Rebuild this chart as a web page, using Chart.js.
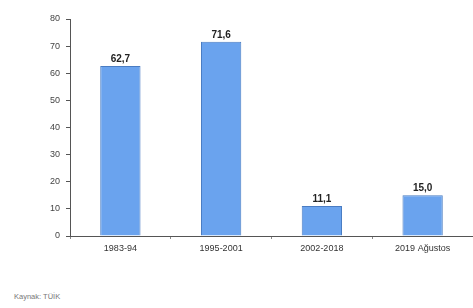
<!DOCTYPE html>
<html>
<head>
<meta charset="utf-8">
<script src="https://cdn.jsdelivr.net/npm/chart.js@4"></script>
<style>
  html, body { margin: 0; padding: 0; background: #fff; }
  #wrap { position: relative; width: 473px; height: 262px; }
  #source { position: absolute; left: 14px; top: 292px; font: 7.5px "Liberation Sans", Arial, sans-serif; color: #777; }
</style>
</head>
<body>
<div id="wrap"><canvas id="chart"></canvas></div>
<div id="source">Kaynak: TÜİK</div>
<script>
const categories = ['1983-94', '1995-2001', '2002-2018', '2019 Ağustos'];
const values = [62.7, 71.6, 11.1, 15.0];
const yTicks = [0, 10, 20, 30, 40, 50, 60, 70, 80];

// value labels above bars, Turkish decimal comma
const barLabels = {
  id: 'barLabels',
  afterDatasetsDraw(chart) {
    const ctx = chart.ctx;
    const meta = chart.getDatasetMeta(0);
    ctx.save();
    ctx.font = 'bold 10px "Liberation Sans", Arial, sans-serif';
    ctx.fillStyle = '#222';
    ctx.textAlign = 'center';
    ctx.textBaseline = 'bottom';
    meta.data.forEach((bar, i) => {
      ctx.fillText(values[i].toFixed(1).replace('.', ','), bar.x, bar.y - 2);
    });
    ctx.restore();
  }
};

new Chart(document.getElementById('chart'), {
  type: 'bar',
  data: {
    labels: categories,
    datasets: [{
      data: values,
      backgroundColor: '#6aa3ee',
      borderColor: '#4a7cc2',
      borderWidth: 1,
      categoryPercentage: 1,
      barPercentage: 0.4
    }]
  },
  options: {
    responsive: true,
    maintainAspectRatio: false,
    animation: false,
    layout: { padding: { top: 19, right: 0, left: 0, bottom: 0 } },
    plugins: { legend: { display: false }, tooltip: { enabled: false } },
    scales: {
      x: {
        grid: { display: true, drawOnChartArea: false, offset: true, tickLength: 3, color: '#888' },
        border: { color: '#555', width: 1 },
        ticks: { color: '#333', font: { size: 9, family: '"Liberation Sans", Arial, sans-serif' }, padding: 4 },
        afterFit: s => { s.height = 26; }
      },
      y: {
        min: 0,
        max: 80,
        afterBuildTicks: s => { s.ticks = yTicks.map(v => ({ value: v })); },
        grid: { display: true, drawOnChartArea: false, tickLength: 4, color: '#555' },
        border: { color: '#555', width: 1 },
        ticks: { color: '#444', font: { size: 9, family: '"Liberation Sans", Arial, sans-serif' }, padding: 6 },
        afterFit: s => { s.width = 70; }
      }
    }
  },
  plugins: [barLabels]
});
</script>
</body>
</html>
